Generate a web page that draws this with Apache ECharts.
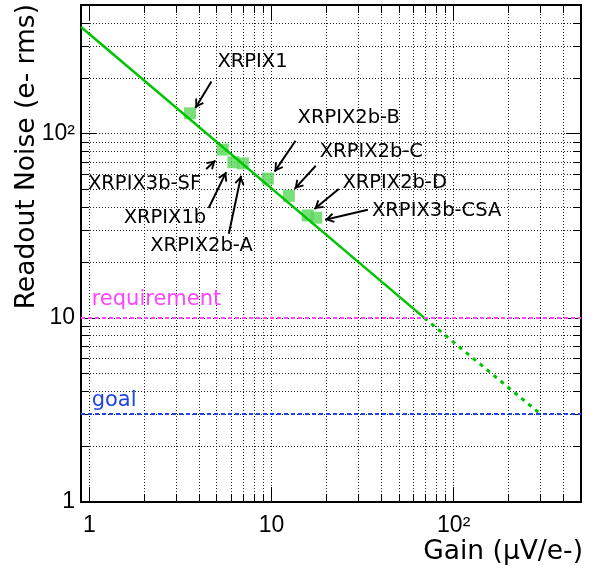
<!DOCTYPE html>
<html>
<head>
<meta charset="utf-8">
<script src="https://cdn.jsdelivr.net/npm/echarts@6/dist/echarts.min.js"></script>
<style>
html,body{margin:0;padding:0;background:#fff}
#main{width:595px;height:572px}
</style>
</head>
<body>
<div id="main"></div>
<script>
// measured chips
var detectors = ['XRPIX1','XRPIX3b-SF','XRPIX1b','XRPIX2b-A','XRPIX2b-B','XRPIX2b-C','XRPIX2b-D','XRPIX3b-CSA'];
var gain  = [3.57, 5.40, 6.18, 6.96, 9.55, 12.45, 15.8, 17.6];
var noise = [129, 82, 70, 69, 57, 46, 36, 35];

// trend line and its extrapolation
var fitGain  = [0.9, 69];
var fitNoise = [380, 10];
var extGain  = [69, 300];
var extNoise = [10, 3];

var requirement = 10;
var goal = 3;

var xTicks = [1,2,3,4,5,6,7,8,9,10,20,30,40,50,60,70,80,90,100,200,300,400,500];
var yTicks = [1,2,3,4,5,6,7,8,9,10,20,30,40,50,60,70,80,90,100,200,300,400,500];
var majorTicks = [1, 10, 100];
var tickText = {1:'1', 10:'10', 100:'10\u00b2'};

// annotation text + arrows, in (gain, noise)
var notes = [
  {name:'XRPIX1',      side:'right', at:[5.05, 246], from:[4.68, 192], to:[3.82, 138]},
  {name:'XRPIX2b-B',   side:'right', at:[13.9, 122], from:[13.55, 91.6], to:[10.4, 62.2]},
  {name:'XRPIX2b-C',   side:'right', at:[18.4, 79.8], from:[17.5, 67], to:[13.4, 50.2]},
  {name:'XRPIX2b-D',   side:'right', at:[24.5, 54], from:[23.4, 50.1], to:[17.2, 39]},
  {name:'XRPIX3b-CSA', side:'right', at:[35.6, 38.2], from:[33.8, 38.6], to:[19.7, 34.1]},
  {name:'XRPIX3b-SF',  side:'left',  at:[4.11, 53.5], from:[4.38, 64.3], to:[4.92, 71.6]},
  {name:'XRPIX1b',     side:'left',  at:[4.38, 34.8], from:[4.52, 39.5], to:[5.64, 61.9]},
  {name:'XRPIX2b-A',   side:'left',  at:[7.89, 24.6], from:[5.83, 28.6], to:[6.81, 59.1]}
];
var limitNotes = [
  {name:'requirement', at:[1.03, 12.6], color:'#ff44ff'},
  {name:'goal',        at:[1.03, 3.55], color:'#1f45e6'}
];

var chart = echarts.init(document.getElementById('main'));

// open "V" arrow head, tip sits on the symbol centre (tiny speck balances the box)
var chevron = 'path://M5,0 L10,8 L8.4,9 L5,3.4 L1.6,9 L0,8 Z M5,-9 L5.01,-9 L5,-8.99 Z';

function axisDef(type, pos, ticks, len, labels, grid, min) {
  return {
    type:'log', logBase:10, min:min, max:500, position:pos,
    axisLine:{show:true, onZero:false, lineStyle:{color:'#000', width:2}},
    axisTick:{show:true, inside:true, length:len, customValues:ticks, lineStyle:{color:'#000', width:1}},
    axisLabel:{show:labels, customValues:majorTicks, margin:(type === 'x' ? 12 : 6),
      color:'#000', fontFamily:'Liberation Sans', fontSize:23,
      formatter:function(v){ return tickText[Math.round(v)] || ''; }},
    splitLine:{show:grid, lineStyle:{color:'#222', width:1, type:[1,2]}},
    minorTick:{show:false}, minorSplitLine:{show:false}
  };
}

var arrows = notes.map(function(n){
  return [{coord:n.from}, {coord:n.to}];
});
var noteData = notes.map(function(n){
  return {name:n.name, value:n.at, label:{position:n.side}};
}).concat(limitNotes.map(function(n){
  return {name:n.name, value:n.at, label:{position:'right', color:n.color, fontSize:21}};
}));

var option = {
  animation:false,
  grid:{left:81, right:14, top:5, bottom:70, containLabel:false},
  xAxis:[
    axisDef('x', 'bottom', majorTicks, 15, true, false, 0.9),
    axisDef('x', 'top', xTicks, 8, false, false, 0.9),
    axisDef('x', 'bottom', xTicks, 8, false, true, 0.9),
    axisDef('x', 'top', majorTicks, 15, false, false, 0.9)
  ],
  yAxis:[
    axisDef('y', 'left', majorTicks, 15, true, false, 1),
    axisDef('y', 'right', yTicks, 8, false, false, 1),
    axisDef('y', 'left', yTicks, 8, false, true, 1),
    axisDef('y', 'right', majorTicks, 15, false, false, 1)
  ],
  graphic:[
    {type:'text', x:27, y:4, rotation:Math.PI/2,
     style:{text:'Readout Noise (e- rms)', font:'26.5px "DejaVu Sans"', fill:'#000',
            textAlign:'right', textVerticalAlign:'middle'}},
    {type:'text', x:583, y:552,
     style:{text:'Gain (\u00b5V/e-)', font:'26.5px "DejaVu Sans"', fill:'#000',
            textAlign:'right', textVerticalAlign:'middle'}}
  ],
  series:[
    {
      name:'limits', type:'line', data:[], silent:true,
      markLine:{
        silent:true, symbol:['none','none'], label:{show:false},
        data:[
          {yAxis:requirement, lineStyle:{color:'#ff44ff', width:2, type:[4,3]}},
          {yAxis:goal, lineStyle:{color:'#1f45e6', width:2, type:[4,3]}}
        ]
      }
    },
    {
      name:'chips', type:'scatter', symbol:'rect', symbolSize:12,
      itemStyle:{color:'#58d858'},
      data:detectors.map(function(d,i){ return {name:d, value:[gain[i], noise[i]]}; }),
      z:2
    },
    {
      name:'fit', type:'line', symbol:'none', z:3,
      lineStyle:{color:'#00c400', width:2.5},
      data:fitGain.map(function(g,i){ return [g, fitNoise[i]]; })
    },
    {
      name:'fitExt', type:'line', symbol:'none', z:3,
      lineStyle:{color:'#00c400', width:3, type:[4,5]},
      data:extGain.map(function(g,i){ return [g, extNoise[i]]; })
    },
    {
      name:'notes', type:'scatter', symbolSize:0, silent:true, z:4,
      itemStyle:{opacity:1},
      label:{show:true, formatter:'{b}', distance:0, color:'#000', opacity:1,
             fontFamily:'DejaVu Sans', fontSize:19.5},
      data:noteData,
      markLine:{
        silent:true, symbol:['none', chevron], symbolSize:[10, 18],
        label:{show:false},
        lineStyle:{color:'#000', width:2, type:'solid'},
        itemStyle:{color:'#000'},
        data:arrows
      }
    }
  ]
};
chart.setOption(option);
</script>
</body>
</html>
